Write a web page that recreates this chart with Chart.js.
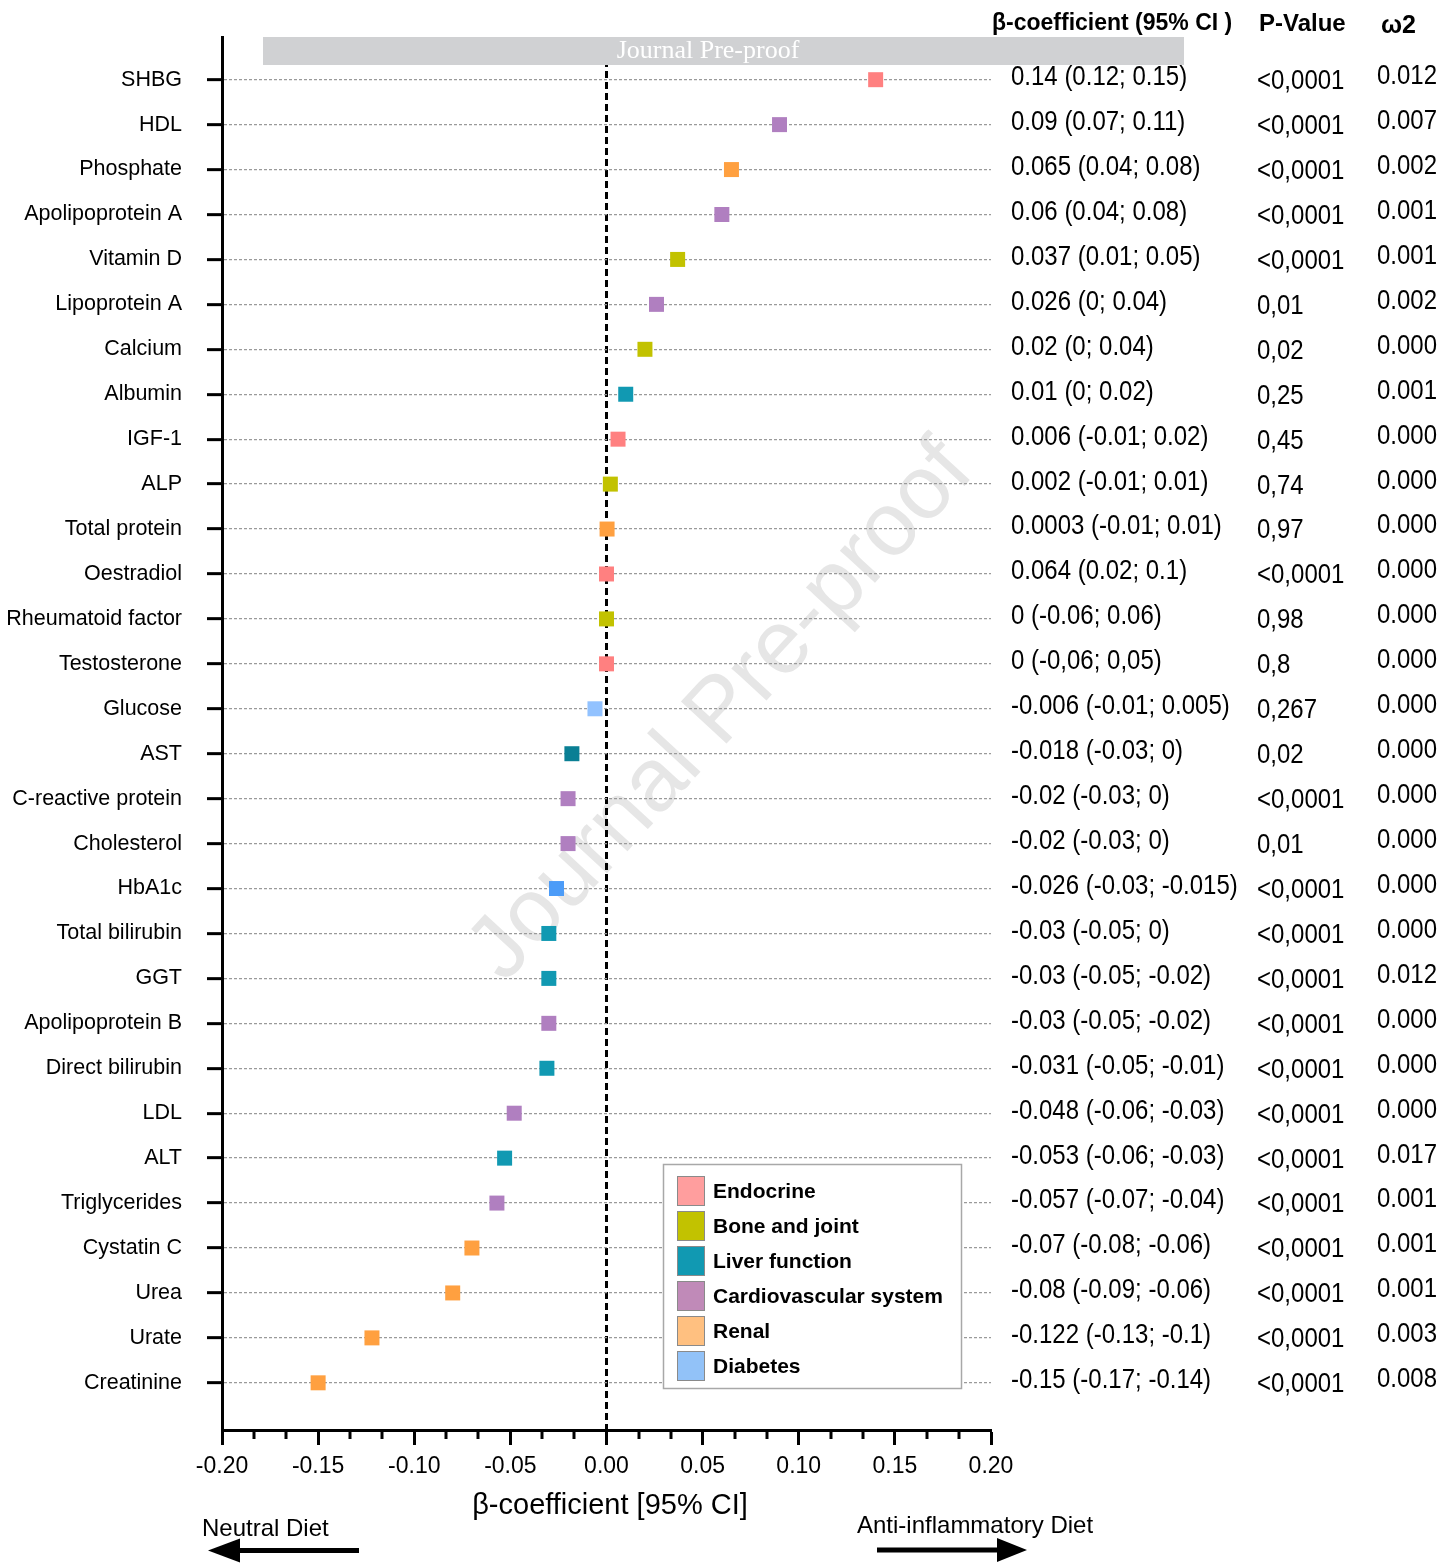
<!DOCTYPE html>
<html><head><meta charset="utf-8">
<script src="https://cdn.jsdelivr.net/npm/chart.js@4.4.1/dist/chart.umd.min.js"></script>
<style>html,body{margin:0;padding:0;background:#fff;} canvas{display:block}</style>
</head><body>
<canvas id="c" width="1441" height="1564"></canvas>
<script>
const categories = ['SHBG','HDL','Phosphate','Apolipoprotein A','Vitamin D','Lipoprotein A','Calcium','Albumin','IGF-1','ALP','Total protein','Oestradiol','Rheumatoid factor','Testosterone','Glucose','AST','C-reactive protein','Cholesterol','HbA1c','Total bilirubin','GGT','Apolipoprotein B','Direct bilirubin','LDL','ALT','Triglycerides','Cystatin C','Urea','Urate','Creatinine'];
const betaValues = [0.14,0.09,0.065,0.06,0.037,0.026,0.02,0.01,0.006,0.002,0.0003,0,0,0,-0.006,-0.018,-0.02,-0.02,-0.026,-0.03,-0.03,-0.03,-0.031,-0.048,-0.053,-0.057,-0.07,-0.08,-0.122,-0.15];
const groups = ['Endocrine','Cardiovascular system','Renal','Cardiovascular system','Bone and joint','Cardiovascular system','Bone and joint','Liver function','Endocrine','Bone and joint','Renal','Endocrine','Bone and joint','Endocrine','Diabetes','Liver function','Cardiovascular system','Cardiovascular system','Diabetes','Liver function','Liver function','Cardiovascular system','Liver function','Cardiovascular system','Liver function','Cardiovascular system','Renal','Renal','Renal','Renal'];
const betaLabels = ['0.14 (0.12; 0.15)','0.09 (0.07; 0.11)','0.065 (0.04; 0.08)','0.06 (0.04; 0.08)','0.037 (0.01; 0.05)','0.026 (0; 0.04)','0.02 (0; 0.04)','0.01 (0; 0.02)','0.006 (-0.01; 0.02)','0.002 (-0.01; 0.01)','0.0003 (-0.01; 0.01)','0.064 (0.02; 0.1)','0 (-0.06; 0.06)','0 (-0,06; 0,05)','-0.006 (-0.01; 0.005)','-0.018 (-0.03; 0)','-0.02 (-0.03; 0)','-0.02 (-0.03; 0)','-0.026 (-0.03; -0.015)','-0.03 (-0.05; 0)','-0.03 (-0.05; -0.02)','-0.03 (-0.05; -0.02)','-0.031 (-0.05; -0.01)','-0.048 (-0.06; -0.03)','-0.053 (-0.06; -0.03)','-0.057 (-0.07; -0.04)','-0.07 (-0.08; -0.06)','-0.08 (-0.09; -0.06)','-0.122 (-0.13; -0.1)','-0.15 (-0.17; -0.14)'];
const pValues = ['<0,0001','<0,0001','<0,0001','<0,0001','<0,0001','0,01','0,02','0,25','0,45','0,74','0,97','<0,0001','0,98','0,8','0,267','0,02','<0,0001','0,01','<0,0001','<0,0001','<0,0001','<0,0001','<0,0001','<0,0001','<0,0001','<0,0001','<0,0001','<0,0001','<0,0001','<0,0001'];
const omega2 = ['0.012','0.007','0.002','0.001','0.001','0.002','0.000','0.001','0.000','0.000','0.000','0.000','0.000','0.000','0.000','0.000','0.000','0.000','0.000','0.000','0.012','0.000','0.000','0.000','0.017','0.001','0.001','0.001','0.003','0.008'];
const groupNames = ['Endocrine','Bone and joint','Liver function','Cardiovascular system','Renal','Diabetes'];
const xTickValues = [-0.2,-0.15,-0.1,-0.05,0,0.05,0.1,0.15,0.2];
const columnHeaders = ['β-coefficient (95% CI )','P-Value','ω2'];
const xTitle = 'β-coefficient [95% CI]';
const leftNote = 'Neutral Diet';
const rightNote = 'Anti-inflammatory Diet';
const watermark = 'Journal Pre-proof';

const markerColor = {'Endocrine':'#FF8080','Bone and joint':'#C2C200','Liver function':'#1199B2','Cardiovascular system':'#B07FC0','Renal':'#FFA040','Diabetes':'#92C2FF'};
const markerOverride = {'AST':'#0A7F94','HbA1c':'#4C9CF8'};
const legendColor = {'Endocrine':'#FF9E9E','Bone and joint':'#C2C200','Liver function':'#1199B2','Cardiovascular system':'#C08AB8','Renal':'#FFC080','Diabetes':'#92C2F8'};

const FONT = '"Liberation Sans", Arial, sans-serif';

function txt(ctx, s, x, y, font, align, sy) {
  ctx.save();
  ctx.font = font; ctx.textAlign = align || 'left'; ctx.textBaseline = 'middle'; ctx.fillStyle = '#000';
  ctx.translate(x, y); ctx.scale(1, sy || 1);
  ctx.fillText(s, 0, 0);
  ctx.restore();
}

const decor = {
  id: 'decor',
  beforeDraw(chart) {
    const ctx = chart.ctx;
    ctx.save();
    ctx.fillStyle = '#fff'; ctx.fillRect(0, 0, chart.width, chart.height);
    ctx.translate(722, 712); ctx.rotate(-47.3 * Math.PI / 180);
    ctx.font = '90px ' + FONT; ctx.fillStyle = '#E6E6E6'; ctx.textAlign = 'center'; ctx.textBaseline = 'middle';
    ctx.fillText(watermark, 0, 0);
    ctx.restore();
  },
  afterDraw(chart) {
    const ctx = chart.ctx;
    const xs = chart.scales.x, ys = chart.scales.y;
    ctx.save(); ctx.strokeStyle = '#000'; ctx.lineWidth = 3;
    for (let i = -12; i <= 12; i++) {
      if (i % 3 === 0) continue;
      const px = Math.round(xs.getPixelForValue(i / 60));
      ctx.beginPath(); ctx.moveTo(px, xs.top); ctx.lineTo(px, xs.top + 9); ctx.stroke();
    }
    ctx.restore();
    ctx.save(); ctx.fillStyle = '#D0D1D3'; ctx.fillRect(263, 37, 921, 28);
    ctx.font = '26px "Liberation Serif", "Times New Roman", serif'; ctx.fillStyle = '#fff'; ctx.textAlign = 'center'; ctx.textBaseline = 'middle';
    ctx.fillText(watermark, 708, 51);
    ctx.restore();
    txt(ctx, columnHeaders[0], 992, 24, 'bold 23px ' + FONT, 'left');
    txt(ctx, columnHeaders[1], 1259, 24, 'bold 24px ' + FONT, 'left');
    txt(ctx, columnHeaders[2], 1381, 26, 'bold 25px ' + FONT, 'left');
    categories.forEach((c, i) => {
      const py = ys.getPixelForValue(i);
      txt(ctx, betaLabels[i], 1011, py - 2, '24px ' + FONT, 'left', 1.12);
      txt(ctx, pValues[i], 1257, py + 2, '24px ' + FONT, 'left', 1.12);
      txt(ctx, omega2[i], 1377, py - 3, '24px ' + FONT, 'left', 1.12);
    });
    ctx.save();
    ctx.fillStyle = '#fff'; ctx.fillRect(663, 1164, 299, 224);
    ctx.strokeStyle = '#A8A8A8'; ctx.lineWidth = 1.5; ctx.strokeRect(663.5, 1164.5, 298, 224);
    groupNames.forEach((g, k) => {
      const cy = 1191 + k * 35;
      ctx.fillStyle = legendColor[g]; ctx.fillRect(677, cy - 15, 28, 30);
      ctx.strokeStyle = '#8A8A8A'; ctx.lineWidth = 1; ctx.strokeRect(677.5, cy - 14.5, 27, 29);
      txt(ctx, g, 713, cy + 1, 'bold 21px ' + FONT, 'left');
    });
    ctx.restore();
    txt(ctx, xTitle, 610, 1506, '29px ' + FONT, 'center');
    txt(ctx, leftNote, 202, 1529, '24px ' + FONT, 'left');
    txt(ctx, rightNote, 857, 1526, '24px ' + FONT, 'left');
    ctx.save(); ctx.fillStyle = '#000';
    ctx.fillRect(236, 1548, 123, 5);
    ctx.beginPath(); ctx.moveTo(208, 1550.5); ctx.lineTo(240, 1538.5); ctx.lineTo(240, 1562.5); ctx.closePath(); ctx.fill();
    ctx.fillRect(877, 1547.5, 123, 5);
    ctx.beginPath(); ctx.moveTo(1027, 1550); ctx.lineTo(997, 1538); ctx.lineTo(997, 1562); ctx.closePath(); ctx.fill();
    ctx.restore();
  }
};

const datasets = groupNames.map(g => ({
  label: g,
  data: categories.map((c, i) => ({x: betaValues[i], y: i, name: c})).filter((p, i) => groups[i] === g),
  pointStyle: 'rect',
  pointRadius: 10.6,
  pointHoverRadius: 10.6,
  borderWidth: 0,
  pointBorderWidth: 0,
  backgroundColor: (ctx) => (ctx.raw && markerOverride[ctx.raw.name]) || markerColor[g],
  pointBackgroundColor: (ctx) => (ctx.raw && markerOverride[ctx.raw.name]) || markerColor[g]
}));

new Chart(document.getElementById('c'), {
  type: 'scatter',
  data: { datasets },
  options: {
    responsive: false, devicePixelRatio: 1, animation: false, events: [],
    layout: { padding: { left: 0, right: 450, top: 37, bottom: 0 } },
    plugins: { legend: { display: false }, tooltip: { enabled: false } },
    scales: {
      x: {
        type: 'linear', min: -0.2, max: 0.2, position: 'bottom',
        afterBuildTicks: s => { s.ticks = xTickValues.map(v => ({ value: v })); },
        afterFit: s => { s.height = 134; },
        ticks: { callback: v => Number(v).toFixed(2), font: { family: FONT, size: 23 }, color: '#000', padding: 8, maxRotation: 0, autoSkip: false },
        grid: {
          color: c => (c.tick && Math.abs(c.tick.value) < 1e-9) ? '#000' : 'rgba(0,0,0,0)',
          lineWidth: c => (c.tick && Math.abs(c.tick.value) < 1e-9) ? 3 : 1,
          tickColor: '#000', tickWidth: 3, tickLength: 15, tickBorderDash: []
        },
        border: { display: true, color: '#000', width: 3, dash: [7, 4] }
      },
      y: {
        type: 'linear', min: -0.93, max: 30.05, reverse: true,
        afterBuildTicks: s => { s.ticks = categories.map((c, i) => ({ value: i })); },
        afterFit: s => { s.width = 222; },
        ticks: { callback: v => categories[v], font: { family: FONT, size: 21.5 }, color: '#000', padding: 25, autoSkip: false },
        grid: { color: '#9A9A9A', lineWidth: 1.3, tickColor: '#000', tickWidth: 3, tickLength: 15, tickBorderDash: [] },
        border: { display: true, color: '#000', width: 3, dash: [3, 2] }
      }
    }
  },
  plugins: [decor]
});
</script>
</body></html>
